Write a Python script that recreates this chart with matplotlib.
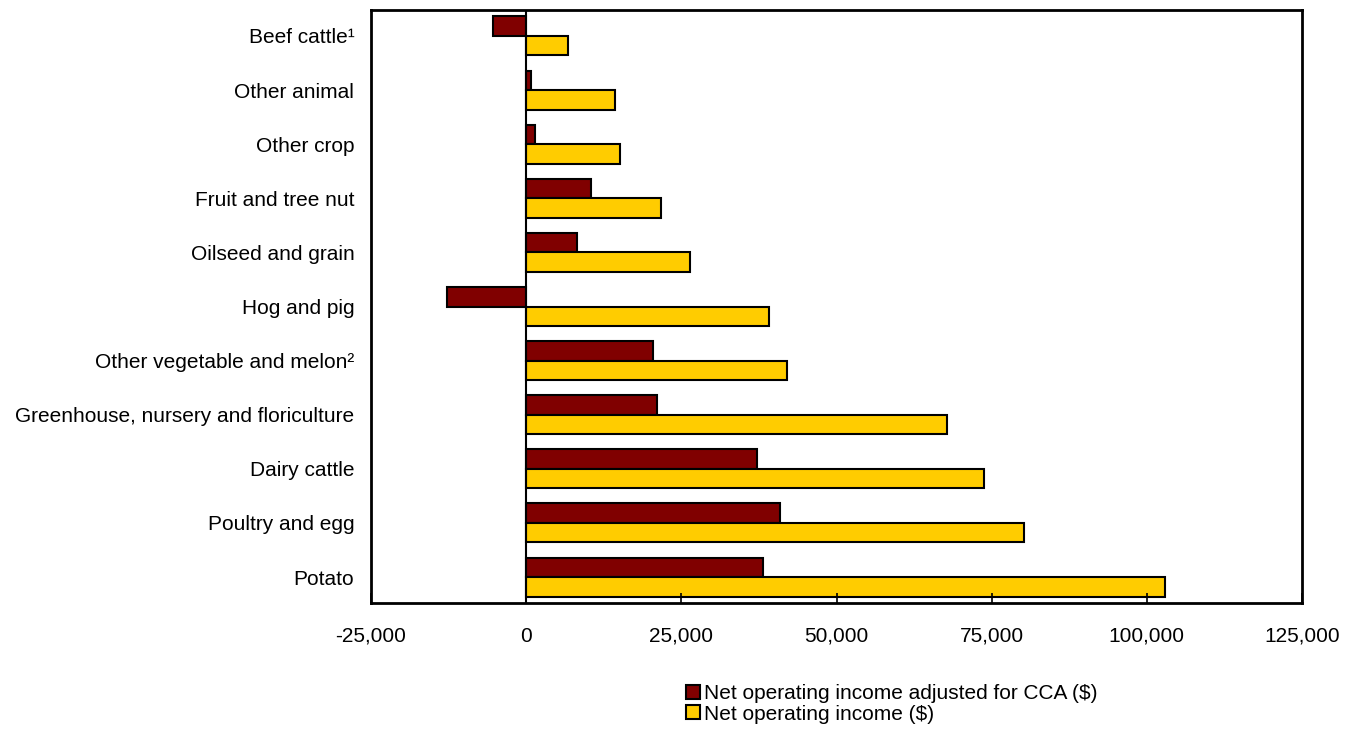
import matplotlib.pyplot as plt
import numpy as np

categories = [
    "Beef cattle¹",
    "Other animal",
    "Other crop",
    "Fruit and tree nut",
    "Oilseed and grain",
    "Hog and pig",
    "Other vegetable and melon²",
    "Greenhouse, nursery and floriculture",
    "Dairy cattle",
    "Poultry and egg",
    "Potato",
]
adjusted_cca = [-5300, 700, 1400, 10500, 8200, -12800, 20500, 21050, 37200, 40900, 38100]
net_income = [6800, 14350, 15100, 21700, 26400, 39100, 42000, 67800, 73800, 80200, 103000]
x_ticks = [-25000, 0, 25000, 50000, 75000, 100000, 125000]

plt.rcParams["font.family"] = ["Liberation Sans", "DejaVu Sans"]

fig = plt.figure(figsize=(13.51, 7.34), dpi=100)
ax = fig.add_axes([371 / 1351, 1 - 603 / 734, (1302 - 371) / 1351, (603 - 10) / 734])

y = np.arange(len(categories))
h = 0.36
ax.barh(y - h / 2, adjusted_cca, height=h, color="#800000", edgecolor="black",
        linewidth=1.5, label="Net operating income adjusted for CCA ($)")
ax.barh(y + h / 2, net_income, height=h, color="#ffcc00", edgecolor="black",
        linewidth=1.5, label="Net operating income ($)")

ax.axvline(0, color="black", linewidth=1.5)
ax.set_xlim(-25000, 125000)
ax.set_ylim(len(categories) - 0.52, -0.48)
ax.set_xticks(x_ticks)
ax.set_xticklabels([f"{v:,}" for v in x_ticks], fontsize=15)
ax.set_yticks(y)
ax.set_yticklabels(categories, fontsize=15)
ax.tick_params(axis="x", direction="in", length=7, width=1.2, pad=17)
ax.tick_params(axis="y", length=0, pad=12)
for s in ax.spines.values():
    s.set_linewidth(2)

fig.legend(loc="upper left", bbox_to_anchor=(686 / 1351, 1 - 684 / 734), frameon=False,
           fontsize=15, handlelength=0.65, handleheight=0.65, handletextpad=0.2,
           labelspacing=0.08, borderpad=0, borderaxespad=0)

fig.savefig("out.png", dpi=100)
